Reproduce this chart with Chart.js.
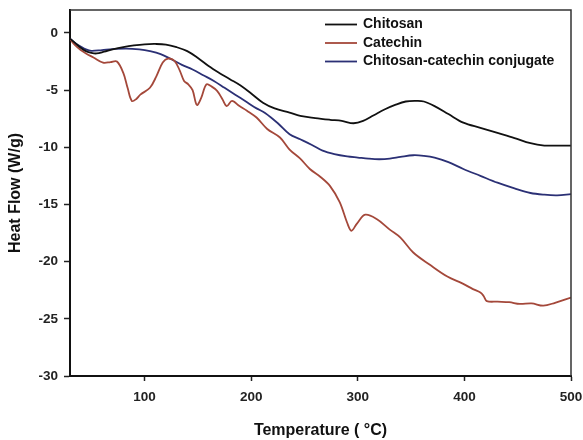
<!DOCTYPE html>
<html>
<head>
<meta charset="utf-8">
<script src="https://cdn.jsdelivr.net/npm/chart.js@4/dist/chart.umd.min.js"></script>
<style>
  html, body { margin: 0; padding: 0; background: #fff; }
</style>
</head>
<body>
<canvas id="dsc" width="583" height="440"></canvas>
<script>
// values
const chitosanT = [30, 35, 40, 45, 50, 55, 62, 70, 80, 90, 100, 110, 120, 130, 140, 150, 160, 170, 180, 190, 200, 211, 222, 236, 246, 260, 274, 285, 296, 305, 315, 325, 335, 345, 355, 362, 372, 385, 399, 415, 431, 447, 462, 475, 487, 500];
const chitosanHF = [-0.5, -0.9, -1.3, -1.6, -1.75, -1.8, -1.65, -1.45, -1.25, -1.1, -1.0, -0.97, -1.02, -1.25, -1.6, -2.2, -2.9, -3.5, -4.05, -4.6, -5.3, -6.1, -6.6, -6.97, -7.26, -7.45, -7.6, -7.7, -7.9, -7.7, -7.2, -6.7, -6.3, -6.0, -5.95, -6.0, -6.4, -7.1, -7.85, -8.3, -8.75, -9.2, -9.65, -9.85, -9.85, -9.85];

const catechinT = [30, 35, 40, 45, 52, 61, 68, 74, 80, 84, 88, 92, 96, 105, 111, 117, 122, 128, 133, 137, 141, 145, 149, 153, 158, 163, 168, 173, 177, 182, 189, 196, 205, 215, 227, 236, 246, 255, 265, 274, 283, 290, 294, 299, 307, 318, 330, 340, 352, 368, 384, 398, 408, 415, 418, 421, 431, 442, 452, 463, 474, 485, 500];
const catechinHF = [-0.55, -1.1, -1.5, -1.8, -2.15, -2.6, -2.55, -2.5, -3.5, -4.8, -5.95, -5.8, -5.4, -4.8, -3.8, -2.6, -2.25, -2.45, -3.3, -4.2, -4.5, -5.0, -6.3, -5.7, -4.5, -4.7, -5.07, -5.8, -6.4, -5.95, -6.4, -6.8, -7.4, -8.4, -9.15, -10.2, -11.0, -11.9, -12.6, -13.4, -14.8, -16.6, -17.3, -16.7, -15.9, -16.3, -17.2, -17.9, -19.2, -20.3, -21.3, -21.9, -22.4, -22.7, -23.0, -23.45, -23.5, -23.55, -23.7, -23.65, -23.85, -23.6, -23.15];

const conjugateT = [30, 35, 40, 45, 50, 60, 70, 83, 95, 105, 115, 125, 135, 145, 155, 165, 175, 185, 195, 205, 213, 225, 236, 246, 257, 267, 278, 290, 300, 310, 320, 330, 340, 352, 362, 372, 385, 399, 415, 431, 447, 462, 475, 487, 500];
const conjugateHF = [-0.5, -0.9, -1.2, -1.45, -1.57, -1.5, -1.42, -1.37, -1.45, -1.6, -1.85, -2.3, -2.8, -3.2, -3.7, -4.2, -4.8, -5.4, -6.0, -6.6, -7.0, -7.9, -8.86, -9.3, -9.8, -10.3, -10.6, -10.8, -10.9, -11.0, -11.05, -11.0, -10.85, -10.7, -10.75, -10.9, -11.3, -11.9, -12.5, -13.1, -13.6, -14.0, -14.15, -14.2, -14.1];

const seriesNames = ['Chitosan', 'Catechin', 'Chitosan-catechin conjugate'];
const xTicks = [100, 200, 300, 400, 500];
const yTicks = [-30, -25, -20, -15, -10, -5, 0];

const toPoints = (xs, ys) => xs.map((x, i) => ({ x: x, y: ys[i] }));

// box around the plot + legend inside the top of it
const frame = {
  id: 'frame',
  afterDraw(chart) {
    const { ctx, chartArea: a } = chart;
    ctx.save();
    ctx.strokeStyle = '#333';
    ctx.lineWidth = 1.5;
    ctx.beginPath();
    ctx.moveTo(a.left, a.top);
    ctx.lineTo(a.right, a.top);
    ctx.lineTo(a.right, a.bottom);
    ctx.stroke();

    ctx.font = 'bold 14px "Liberation Sans", Arial, sans-serif';
    ctx.textBaseline = 'middle';
    ctx.fillStyle = '#111';
    chart.data.datasets.forEach((ds, i) => {
      const y = 24.5 + i * 18.5;
      ctx.strokeStyle = ds.borderColor;
      ctx.lineWidth = 1.8;
      ctx.beginPath();
      ctx.moveTo(325, y);
      ctx.lineTo(357, y);
      ctx.stroke();
      ctx.fillText(ds.label, 363, y);
    });
    ctx.restore();
  }
};

const tickFont = { family: '"Liberation Sans", Arial, sans-serif', size: 13.5, weight: 'bold' };
const titleFont = { family: '"Liberation Sans", Arial, sans-serif', size: 16, weight: 'bold' };

new Chart(document.getElementById('dsc'), {
  type: 'line',
  data: {
    datasets: [
      { label: seriesNames[0], data: toPoints(chitosanT, chitosanHF), borderColor: '#111111' },
      { label: seriesNames[1], data: toPoints(catechinT, catechinHF), borderColor: '#a4483a' },
      { label: seriesNames[2], data: toPoints(conjugateT, conjugateHF), borderColor: '#2b3075' }
    ].map(d => Object.assign(d, { borderWidth: 1.8, pointRadius: 0, tension: 0.35, fill: false }))
  },
  options: {
    responsive: false,
    animation: false,
    layout: { padding: { top: 10, right: 0, left: 0, bottom: 0 } },
    plugins: { legend: { display: false }, tooltip: { enabled: false } },
    scales: {
      x: {
        type: 'linear',
        min: 30,
        max: 500,
        afterBuildTicks: s => { s.ticks = xTicks.map(v => ({ value: v })); },
        afterFit: s => { s.height = 64; s.paddingRight = 12; },
        grid: { drawOnChartArea: false, tickLength: 5, tickColor: '#222', tickWidth: 1.5 },
        border: { color: '#111', width: 2 },
        ticks: { font: tickFont, color: '#222', padding: 8, maxRotation: 0 },
        title: { display: true, text: 'Temperature ( °C)', font: titleFont, color: '#111', padding: { top: 8, bottom: 0 } }
      },
      y: {
        min: -30,
        max: 2,
        afterBuildTicks: s => { s.ticks = yTicks.map(v => ({ value: v })); },
        afterFit: s => { s.width = 70; s.paddingTop = 0; s.paddingBottom = 0; },
        grid: { drawOnChartArea: false, tickLength: 6, tickColor: '#222', tickWidth: 1.5 },
        border: { color: '#111', width: 2 },
        ticks: { font: tickFont, color: '#222', padding: 6 },
        title: { display: true, text: 'Heat Flow (W/g)', font: titleFont, color: '#111', padding: { top: 6, bottom: 2 } }
      }
    }
  },
  plugins: [frame]
});
</script>
</body>
</html>
